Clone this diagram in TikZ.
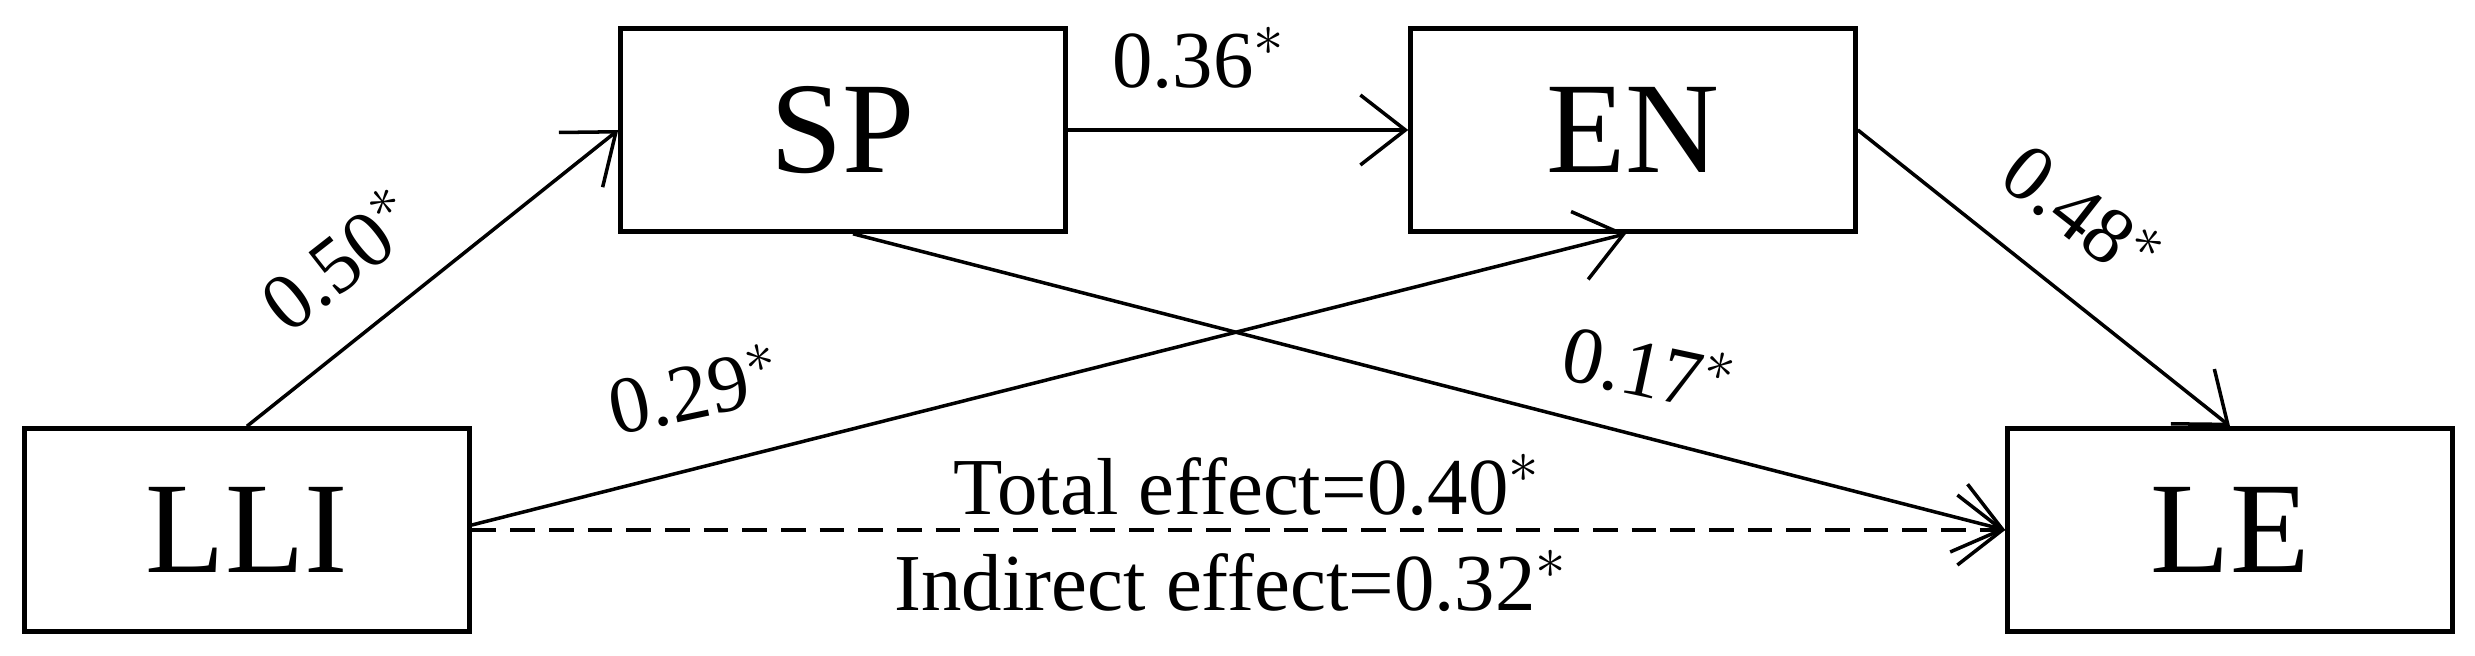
\documentclass[tikz,border=0pt]{standalone}
\usepackage{fontspec}
\setmainfont{Liberation Serif}
\usetikzlibrary{arrows.meta}
\tikzset{
  var/.style={draw,line width=1.3pt,minimum width=4.45cm,minimum height=2.03cm,font=\fontsize{37}{40}\selectfont},
  path/.style={line width=1pt,-{Straight Barb[length=4.5mm,width=7mm,line width=1pt]}},
  coef/.style={font=\fontsize{23}{26}\selectfont}
}
\begin{document}
\begin{tikzpicture}
\useasboundingbox (0,0) rectangle (24.75,6.55);
\node[var] (LLI) at (2.47,1.25) {LLI};
\node[var] (SP) at (8.43,5.25) {SP};
\node[var] (EN) at (16.33,5.25) {EN};
\node[var] (LE) at (22.30,1.25) {LE};
\draw[path] (LLI.north) -- (SP.west);
\draw[path] (SP) -- (EN);
\draw[path] (EN.east) -- (LE.north);
\draw[path] ([xshift=0.1cm]SP.south) -- (LE.west);
\draw[path] ([yshift=0.05cm]LLI.east) -- ([xshift=-0.07cm]EN.south);
\draw[path,dashed,dash pattern=on 7pt off 4pt] (LLI.east) -- (LE.west);
\node[coef,rotate=38] (c1) at (3.39,3.96) {0.50$^*$};
\node[coef] (c2) at (11.99,5.97) {0.36$^*$};
\node[coef,rotate=-38] (c3) at (20.83,4.42) {0.48$^*$};
\node[coef,rotate=12] (c4) at (6.94,2.66) {0.29$^*$};
\node[coef,rotate=-12] (c5) at (16.49,2.87) {0.17$^*$};
\node[coef] (te) at (12.47,1.70) {Total effect=0.40$^*$};
\node[coef] (ie) at (12.31,0.74) {Indirect effect=0.32$^*$};
\end{tikzpicture}
\end{document}
